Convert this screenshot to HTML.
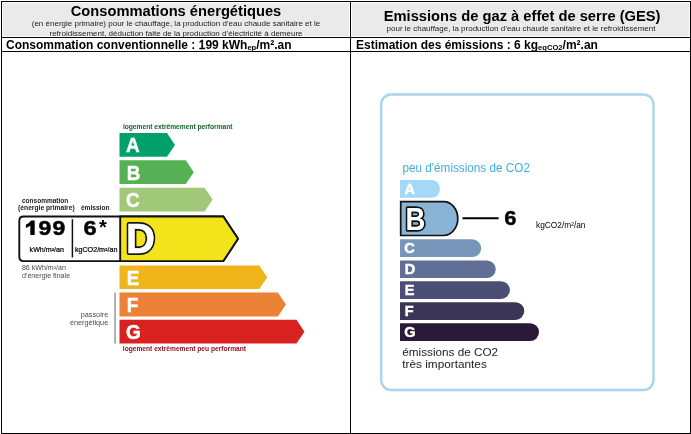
<!DOCTYPE html>
<html><head><meta charset="utf-8">
<style>
*{margin:0;padding:0;box-sizing:border-box}
html,body{width:691px;height:434px;overflow:hidden;background:#fff;font-family:"Liberation Sans",sans-serif;color:#000}
.a{position:absolute}
.ln{position:absolute;background:#000}
.gray{position:absolute;background:#eaeaea}
.t{position:absolute;white-space:nowrap;line-height:1}
.b{font-weight:bold}
#w{position:absolute;left:0;top:0;width:691px;height:434px;will-change:transform}
</style></head><body><div id="w">
<div class="gray" style="left:3px;top:3px;width:346px;height:33px"></div>
<div class="gray" style="left:352px;top:3px;width:337px;height:33px"></div>

<div class="t b" style="left:2px;width:348px;text-align:center;top:4px;font-size:14.7px">Consommations énergétiques</div>
<div class="t" style="left:2px;width:348px;text-align:center;top:19px;font-size:8px;line-height:9.5px;color:#222;white-space:normal">(en énergie primaire) pour le chauffage, la production d’eau chaude sanitaire et le<br>refroidissement, déduction faite de la production d’électricité à demeure</div>
<div class="t b" style="left:6px;top:39px;font-size:12px">Consommation conventionnelle : <span style="font-weight:normal;-webkit-text-stroke:0.55px #000">1</span>99 kWh<sub style="font-size:7.6px;vertical-align:-1px;line-height:0">ep</sub>/m².an</div>

<div class="t b" style="left:352.6px;width:339px;text-align:center;top:8.8px;font-size:14.7px">Emissions de gaz à effet de serre (GES)</div>
<div class="t" style="left:351.5px;width:339px;text-align:center;top:24.7px;font-size:8px;color:#222">pour le chauffage, la production d’eau chaude sanitaire et le refroidissement</div>
<div class="t b" style="left:356px;top:39px;font-size:12px">Estimation des émissions : 6 kg<sub style="font-size:7.6px;vertical-align:-1px;line-height:0">eqCO2</sub>/m².an</div>
<svg class="a" style="left:0;top:0" width="691" height="434" viewBox="0 0 691 434" font-family="Liberation Sans, sans-serif">
<text x="122.9" y="129.3" font-size="7" font-weight="bold" fill="#15602a" textLength="109.7" lengthAdjust="spacingAndGlyphs">logement extrêmement performant</text>
<polygon points="119.5,133.0 167.0,133.0 175.0,144.90 167.0,156.8 119.5,156.8" fill="#00a06c"/>
<polygon points="119.5,160.3 185.8,160.3 193.8,172.20 185.8,184.1 119.5,184.1" fill="#55b153"/>
<polygon points="119.5,187.7 204.6,187.7 212.6,199.60 204.6,211.5 119.5,211.5" fill="#a0c878"/>
<polygon points="119.5,265.5 259.3,265.5 267.3,277.30 259.3,289.1 119.5,289.1" fill="#f0b51a"/>
<polygon points="119.5,292.6 277.9,292.6 285.9,304.55 277.9,316.5 119.5,316.5" fill="#eb8235"/>
<polygon points="119.5,319.7 296.5,319.7 304.5,331.65 296.5,343.6 119.5,343.6" fill="#d9221f"/>
<text x="126.0" y="152.39" transform="translate(126.0 0) scale(0.92 1) translate(-126.0 0)" font-size="20.6" font-weight="bold" fill="#fff" stroke="#fff" stroke-width="0.5">A</text>
<text x="126.8" y="179.69" transform="translate(126.8 0) scale(0.92 1) translate(-126.8 0)" font-size="20.6" font-weight="bold" fill="#fff" stroke="#fff" stroke-width="0.5">B</text>
<text x="126.0" y="207.09" transform="translate(126.0 0) scale(0.92 1) translate(-126.0 0)" font-size="20.6" font-weight="bold" fill="#fff" stroke="#fff" stroke-width="0.5">C</text>
<text x="126.8" y="284.79" transform="translate(126.8 0) scale(0.92 1) translate(-126.8 0)" font-size="20.6" font-weight="bold" fill="#fff" stroke="#fff" stroke-width="0.5">E</text>
<text x="126.8" y="312.04" transform="translate(126.8 0) scale(0.92 1) translate(-126.8 0)" font-size="20.6" font-weight="bold" fill="#fff" stroke="#fff" stroke-width="0.5">F</text>
<text x="126.0" y="339.14" transform="translate(126.0 0) scale(0.92 1) translate(-126.0 0)" font-size="20.6" font-weight="bold" fill="#fff" stroke="#fff" stroke-width="0.5">G</text>
<path d="M23.6,216.5 H223.3 L238,238.8 L223.3,261.1 H23.6 Q19.3,261.1 19.3,256.8 V220.8 Q19.3,216.5 23.6,216.5 Z" fill="#fff" stroke="#111" stroke-width="1.9"/>
<path d="M120.2,216.5 H223.3 L238,238.8 L223.3,261.1 H120.2 Z" fill="#f2e31a" stroke="#111" stroke-width="1.9"/>
<line x1="72.4" y1="219.2" x2="72.4" y2="257.5" stroke="#111" stroke-width="1.5"/>
<text x="126.1" y="253.0" transform="translate(126.1 0) scale(0.96 1) translate(-126.1 0)" font-size="41.8" font-weight="bold" fill="#111" stroke="#111" stroke-width="4.1" stroke-linejoin="round">D</text><text x="126.1" y="253.0" transform="translate(126.1 0) scale(0.96 1) translate(-126.1 0)" font-size="41.8" font-weight="bold" fill="#fff" stroke="#fff" stroke-width="0.6" stroke-linejoin="round">D</text>
<g font-weight="bold" fill="#1a1a1a">
<text x="22" y="203.1" font-size="7" textLength="46.3" lengthAdjust="spacingAndGlyphs">consommation</text>
<text x="18.1" y="210.1" font-size="7" textLength="56.6" lengthAdjust="spacingAndGlyphs">(énergie primaire)</text>
<text x="80.9" y="210.1" font-size="7" textLength="28.6" lengthAdjust="spacingAndGlyphs">émission</text>
</g>
<path d="M34.7,235 L30.3,235 L30.3,225.4 Q28.3,227.1 25.9,227.9 L25.9,224.4 Q27.8,223.7 29.3,222.4 Q30.6,221.3 31.2,220.5 L34.7,220.5 Z" fill="#000"/>
<text x="38.6" y="235" transform="translate(38.6 0) scale(1.12 1) translate(-38.6 0)" font-size="20.5" font-weight="bold" fill="#000" stroke="#000" stroke-width="0.5">9</text>
<text x="52.4" y="235" transform="translate(52.4 0) scale(1.12 1) translate(-52.4 0)" font-size="20.5" font-weight="bold" fill="#000" stroke="#000" stroke-width="0.5">9</text>
<text x="83.4" y="235" transform="translate(83.4 0) scale(1.15 1) translate(-83.4 0)" font-size="20.5" font-weight="bold" fill="#000" stroke="#000" stroke-width="0.5">6</text>
<text x="98.9" y="234.4" font-size="20" font-weight="bold" fill="#000">*</text>
<g fill="#000" font-size="7" stroke="#000" stroke-width="0.2">
<text x="29.6" y="252.1" textLength="34.4" lengthAdjust="spacingAndGlyphs">kWh/m²/an</text>
<text x="74.9" y="252.1" textLength="42.5" lengthAdjust="spacingAndGlyphs">kgCO2/m²/an</text>
</g>
<g fill="#4a4a4a" font-size="7">
<text x="21.9" y="269.9" textLength="44" lengthAdjust="spacingAndGlyphs">86 kWh/m²/an</text>
<text x="21.9" y="278.3" textLength="48.2" lengthAdjust="spacingAndGlyphs">d’énergie finale</text>
<text x="80.8" y="316.5" textLength="27.4" lengthAdjust="spacingAndGlyphs">passoire</text>
<text x="69.9" y="324.5" textLength="38.3" lengthAdjust="spacingAndGlyphs">énergétique</text>
</g>
<rect x="114.3" y="292.8" width="1.5" height="51" fill="#999"/>
<text x="122.8" y="351.1" font-size="7" font-weight="bold" fill="#921020" textLength="123.2" lengthAdjust="spacingAndGlyphs">logement extrêmement peu performant</text>
<rect x="381.2" y="94.5" width="272.3" height="295.5" rx="10" ry="10" fill="none" stroke="#a8d4ec" stroke-width="2.3"/>
<text x="402.5" y="172.2" font-size="11.9" fill="#40aee0" textLength="127.4" lengthAdjust="spacingAndGlyphs">peu d'émissions de CO2</text>
<path d="M400,180 H432 A8,8.9 0 0 1 432,197.8 H400 Z" fill="#a4d8f6"/>
<path d="M400.7,201.7 H443.6 A14.2,16.9 0 0 1 443.6,235.5 H400.7 Z" fill="#8ab4d6" stroke="#111" stroke-width="1.7"/>
<path d="M400,239.3 H472.3 A8.9,8.90 0 0 1 472.3,257.1 H400 Z" fill="#7896b9"/>
<path d="M400,260.4 H486.8 A8.9,8.85 0 0 1 486.8,278.1 H400 Z" fill="#5f6f96"/>
<path d="M400,281.2 H501.0 A8.9,8.85 0 0 1 501.0,298.9 H400 Z" fill="#4c4f75"/>
<path d="M400,302.2 H515.4 A8.9,8.85 0 0 1 515.4,319.9 H400 Z" fill="#3a3556"/>
<path d="M400,323.2 H530.1 A8.9,8.90 0 0 1 530.1,341.0 H400 Z" fill="#2a1a38"/>
<g font-size="14.5" font-weight="bold" fill="#fff" stroke="#fff" stroke-width="0.45">
<text x="404.5" y="194.1">A</text>
<text x="404.3" y="253.19">C</text>
<text x="404.8" y="274.24">D</text>
<text x="404.8" y="295.04">E</text>
<text x="404.8" y="316.04">F</text>
<text x="404.3" y="337.09">G</text>
</g>
<text x="405.6" y="229.6" transform="translate(405.6 0) scale(0.9 1) translate(-405.6 0)" font-size="30.6" font-weight="bold" fill="#fff" stroke="#111" stroke-width="3.6" stroke-linejoin="round" paint-order="stroke">B</text>
<line x1="462.5" y1="218.3" x2="498.6" y2="218.3" stroke="#000" stroke-width="2"/>
<text x="504.3" y="225.3" transform="translate(504.3 0) scale(1.1 1) translate(-504.3 0)" font-size="20" font-weight="bold" fill="#000" stroke="#000" stroke-width="0.4">6</text>
<text x="536" y="228.4" font-size="8.3" fill="#000" textLength="49.5" lengthAdjust="spacingAndGlyphs">kgCO2/m²/an</text>
<text x="402.3" y="355.7" font-size="11.6" fill="#222" textLength="95.8" lengthAdjust="spacingAndGlyphs">émissions de CO2</text>
<text x="402.3" y="368.2" font-size="11.6" fill="#222" textLength="84.5" lengthAdjust="spacingAndGlyphs">très importantes</text>
</svg>
<div class="ln" style="left:1px;top:1px;width:690px;height:1px"></div>
<div class="ln" style="left:1px;top:37px;width:690px;height:1px"></div>
<div class="ln" style="left:1px;top:51px;width:690px;height:1px"></div>
<div class="ln" style="left:1px;top:433px;width:690px;height:1px"></div>
<div class="ln" style="left:1px;top:1px;width:1px;height:433px"></div>
<div class="ln" style="left:350px;top:1px;width:1px;height:433px"></div>
<div class="ln" style="left:690px;top:1px;width:1px;height:433px"></div>
</div></body></html>
